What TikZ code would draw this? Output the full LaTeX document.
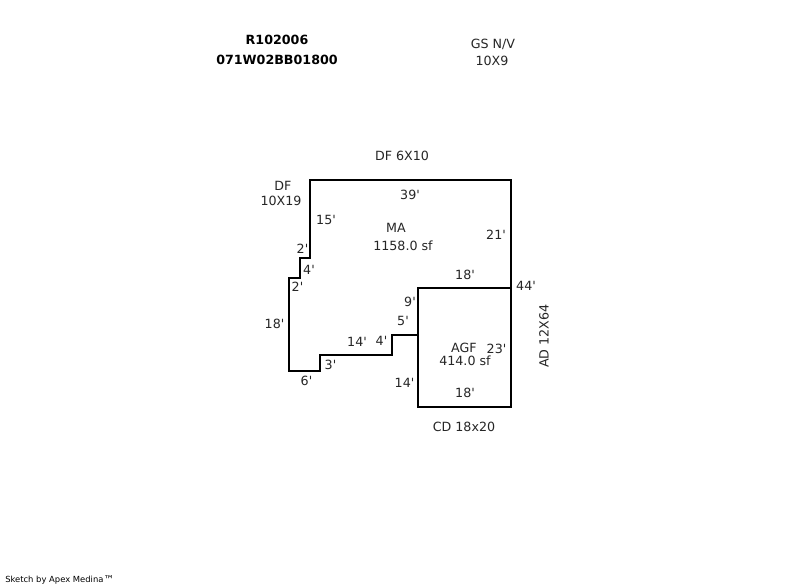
\documentclass[tikz,border=0pt]{standalone}
\usepackage{fontspec}
\newfontfamily\djv{DejaVu Sans}
\tikzset{
  wall/.style={line width=1.5pt,line join=miter,line cap=rect,black},
  lbl/.style={inner sep=0pt,font=\djv\fontsize{9.5pt}{11pt}\selectfont,text=black!85,align=center},
  ttl/.style={inner sep=0pt,font=\djv\fontsize{9.5pt}{11pt}\selectfont\bfseries,text=black},
  foot/.style={inner sep=0pt,font=\djv\fontsize{6.3pt}{8pt}\selectfont,text=black}
}
\begin{document}
\begin{tikzpicture}[x=0.75pt,y=-0.75pt]
\useasboundingbox (0,0) rectangle (800,587);
\fill[white] (0,0) rectangle (800,587);
% outline
\draw[wall] (310,180) -- (511,180) -- (511,406.5) -- (418,406.5) -- (418,288) -- (511,288);
\draw[wall] (418,335) -- (392,335) -- (392,354.5) -- (320,354.5) -- (320,371) -- (289,371) -- (289,278) -- (299.5,278) -- (299.5,258) -- (310,258) -- (310,180);
% titles
\node[ttl] (t1) at (277,39.5) {R102006};
\node[ttl] (t2) at (277,59.5) {071W02BB01800};
\node[lbl] (gs) at (493,44) {GS N/V};
\node[lbl] (gsd) at (492,61) {10X9};
% additions
\node[lbl] (df1) at (402,155.5) {DF 6X10};
\node[lbl] (df2a) at (283,186) {DF};
\node[lbl] (df2b) at (281,201) {10X19};
\node[lbl] (cd) at (464,426.5) {CD 18x20};
\node[lbl,rotate=90] (ad) at (544,336) {AD 12X64};
% areas
\node[lbl] (ma) at (396,228) {MA};
\node[lbl] (masf) at (403,246) {1158.0 sf};
\node[lbl] (agf) at (464,348) {AGF};
\node[lbl] (agfsf) at (465,361) {414.0 sf};
% dimensions
\node[lbl] (d39) at (410,195) {39'};
\node[lbl] (d15) at (326,219.5) {15'};
\node[lbl] (d21) at (496,234.5) {21'};
\node[lbl] (d2a) at (302.5,248.5) {2'};
\node[lbl] (d4a) at (309,270) {4'};
\node[lbl] (d2b) at (297.5,287) {2'};
\node[lbl] (d18a) at (274.5,323.5) {18'};
\node[lbl] (d18b) at (465,274.5) {18'};
\node[lbl] (d44) at (526,285.5) {44'};
\node[lbl] (d9) at (410,302) {9'};
\node[lbl] (d5) at (403,321) {5'};
\node[lbl] (d14a) at (357,341.5) {14'};
\node[lbl] (d4b) at (381.5,341) {4'};
\node[lbl] (d23) at (496.5,348.5) {23'};
\node[lbl] (d3) at (330.5,365) {3'};
\node[lbl] (d6) at (306.5,381) {6'};
\node[lbl] (d14b) at (404.5,382.5) {14'};
\node[lbl] (d18c) at (465,393) {18'};
\node[foot,anchor=west] (ft) at (5,580) {Sketch by Apex Medina\raisebox{-0.8pt}{\fontsize{8pt}{8pt}\selectfont\char"2122}};
\end{tikzpicture}
\end{document}
